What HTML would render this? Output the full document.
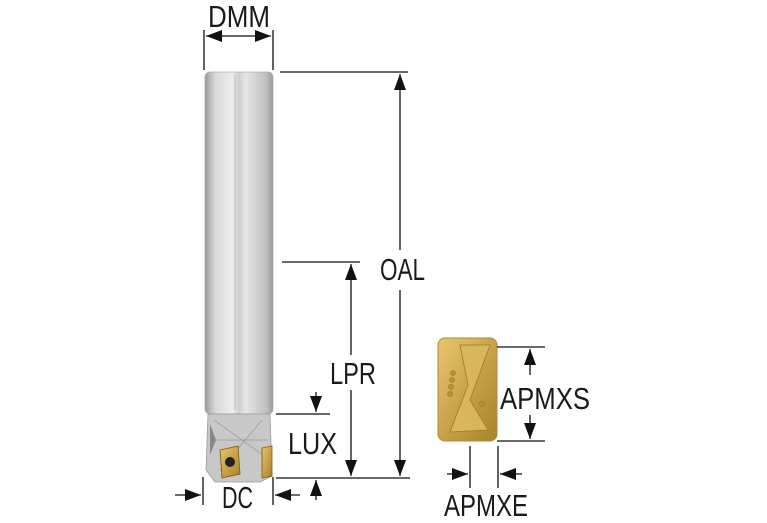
<!DOCTYPE html>
<html><head><meta charset="utf-8"><style>
html,body{margin:0;padding:0;background:#fff;width:767px;height:523px;overflow:hidden}
text{font-family:"Liberation Sans",sans-serif;font-size:31px;fill:#1a1a1a}
</style></head><body>
<svg width="767" height="523" viewBox="0 0 767 523">
<defs>
<linearGradient id="sh" x1="0" x2="1">
<stop offset="0" stop-color="#9a9a9a"/><stop offset="0.15" stop-color="#d8d8d8"/><stop offset="0.4" stop-color="#eeeeee"/><stop offset="0.5" stop-color="#cfcfcf"/><stop offset="0.6" stop-color="#e6e6e6"/><stop offset="0.9" stop-color="#c0c0c0"/><stop offset="1" stop-color="#9c9c9c"/>
</linearGradient>
<linearGradient id="gd" x1="0" x2="1" y1="0" y2="1">
<stop offset="0" stop-color="#e8c870"/><stop offset="0.5" stop-color="#c9a24a"/><stop offset="1" stop-color="#a8822c"/>
</linearGradient>
<marker id="a" viewBox="0 0 10 10" refX="10" refY="5" markerWidth="16" markerHeight="12" markerUnits="userSpaceOnUse" orient="auto" preserveAspectRatio="none"><path d="M0,0L10,5L0,10z" fill="#111"/></marker>
</defs>
<rect x="205" y="72" width="68" height="342" rx="5" fill="url(#sh)" stroke="#aaa" stroke-width="0.8"/>
<line x1="235" y1="75" x2="235" y2="410" stroke="#bbb" stroke-width="1"/>
<path d="M208,414 L270,414 L272,476 L260,482 L215,482 L206,470 Z" fill="#c8c8c8" stroke="#999" stroke-width="0.8"/>
<path d="M214,420 L270,460 M262,420 L220,470 M215,440 L268,440" stroke="#999" stroke-width="0.7" fill="none"/>
<path d="M220,450 L238,446 L240,474 L222,478 Z" fill="url(#gd)" stroke="#7a5a10" stroke-width="0.8"/>
<circle cx="230" cy="462" r="5" fill="#222"/>
<path d="M262,448 L272,446 L272,476 L262,478 Z" fill="url(#gd)" stroke="#7a5a10" stroke-width="0.8"/>
<path d="M210,424 L216,440 L210,455 Z" fill="#888"/>
<rect x="438" y="338" width="59" height="103" rx="7" fill="url(#gd)" stroke="#b08b35"/>
<path d="M460,345 L490,345 L470,400 L488,430 L450,432 L468,385 Z" fill="#d9b55c" stroke="#9a7a2a" stroke-width="0.8"/>
<g fill="#b8923a" stroke="#8a6a1a" stroke-width="0.5"><circle cx="453" cy="373" r="2.5"/><circle cx="452" cy="380" r="2.5"/><circle cx="451" cy="387" r="2.5"/><circle cx="450" cy="394" r="2.5"/><circle cx="482" cy="404" r="2.5"/></g>
<g stroke="#111" stroke-width="1.3" fill="none">
<line x1="204" y1="30" x2="204" y2="70"/><line x1="273" y1="30" x2="273" y2="70"/>
<line x1="225" y1="36" x2="206" y2="36" marker-end="url(#a)"/><line x1="252" y1="36" x2="271" y2="36" marker-end="url(#a)"/>
<line x1="225" y1="36" x2="252" y2="36"/>
<line x1="280" y1="72" x2="408" y2="72"/>
<line x1="400" y1="250" x2="400" y2="74" marker-end="url(#a)"/>
<line x1="400" y1="290" x2="400" y2="476" marker-end="url(#a)"/>
<line x1="282" y1="262" x2="360" y2="262"/>
<line x1="351" y1="355" x2="351" y2="264" marker-end="url(#a)"/>
<line x1="351" y1="390" x2="351" y2="476" marker-end="url(#a)"/>
<line x1="276" y1="414" x2="330" y2="414"/>
<line x1="316" y1="392" x2="316" y2="412" marker-end="url(#a)"/>
<line x1="276" y1="478" x2="410" y2="478"/>
<line x1="316" y1="500" x2="316" y2="480" marker-end="url(#a)"/>
<line x1="203" y1="477" x2="203" y2="505"/><line x1="273" y1="477" x2="273" y2="505"/>
<line x1="175" y1="495" x2="201" y2="495" marker-end="url(#a)"/>
<line x1="300" y1="495" x2="275" y2="495" marker-end="url(#a)"/>
<line x1="497" y1="347" x2="545" y2="347"/><line x1="497" y1="441" x2="545" y2="441"/>
<line x1="530" y1="375" x2="530" y2="349" marker-end="url(#a)"/>
<line x1="530" y1="415" x2="530" y2="439" marker-end="url(#a)"/>
<line x1="470" y1="446" x2="470" y2="488"/><line x1="498" y1="446" x2="498" y2="488"/>
<line x1="447" y1="474" x2="468" y2="474" marker-end="url(#a)"/>
<line x1="522" y1="474" x2="500" y2="474" marker-end="url(#a)"/>
</g>
<text x="208" y="27" textLength="62" lengthAdjust="spacingAndGlyphs">DMM</text>
<text x="380" y="280" textLength="45" lengthAdjust="spacingAndGlyphs">OAL</text>
<text x="330" y="384" textLength="46" lengthAdjust="spacingAndGlyphs">LPR</text>
<text x="288" y="454" textLength="49" lengthAdjust="spacingAndGlyphs">LUX</text>
<text x="222" y="508" textLength="31" lengthAdjust="spacingAndGlyphs">DC</text>
<text x="500" y="409" textLength="90" lengthAdjust="spacingAndGlyphs">APMXS</text>
<text x="444" y="516" textLength="84" lengthAdjust="spacingAndGlyphs">APMXE</text>
</svg>
</body></html>
